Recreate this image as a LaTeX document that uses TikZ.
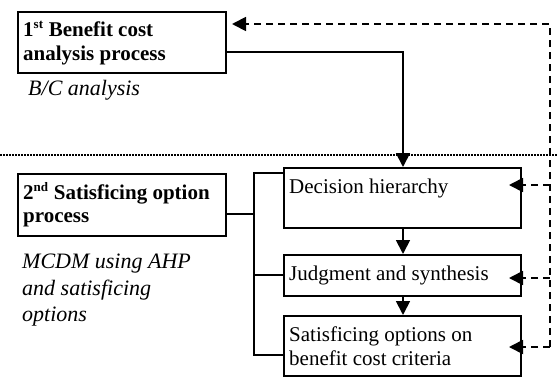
\documentclass[tikz,border=0pt]{standalone}
\usepackage{fontspec}
\setmainfont{Liberation Serif}[BoldFont={Liberation Serif Bold},ItalicFont={Liberation Serif Italic}]
\usetikzlibrary{arrows.meta}
\begin{document}
\begin{tikzpicture}[x=1pt,y=-1pt,
  box/.style={draw,line width=1.8pt,anchor=north west,inner sep=0pt},
  txt/.style={anchor=base west,inner sep=0pt,font=\fontsize{21}{24}\selectfont},
  btxt/.style={txt,font=\fontsize{21}{24}\selectfont\bfseries},
  itxt/.style={txt,font=\fontsize{22}{26}\selectfont\itshape},
  conn/.style={line width=1.8pt},
  arr/.style={conn,-{Triangle[length=14pt,width=14pt]}},
  dashline/.style={line width=1.8pt,dash pattern=on 7.5pt off 4.5pt},
  darr/.style={dashline,-{Triangle[length=14pt,width=14pt]}}]
\useasboundingbox (0,0) rectangle (557,389);
% boxes
\node[box,minimum width=208pt,minimum height=61pt] (b1) at (17,11) {};
\node[box,minimum width=208pt,minimum height=62pt] (b2) at (17,173) {};
\node[box,minimum width=237pt,minimum height=60pt] (dec) at (283,167) {};
\node[box,minimum width=237pt,minimum height=41pt] (jud) at (283,254) {};
\node[box,minimum width=237pt,minimum height=60pt] (sat) at (283,315) {};
% texts
\node[btxt] (t1a) at (23,36) {1\textsuperscript{\fontsize{13}{13}\selectfont st} Benefit cost};
\node[btxt] (t1b) at (23,60) {analysis process};
\node[itxt] (t1c) at (28,95) {B/C analysis};
\node[btxt] (t2a) at (23,199) {2\textsuperscript{\fontsize{13}{13}\selectfont nd} Satisficing option};
\node[btxt] (t2b) at (23,222) {process};
\node[itxt] (t2c) at (22,268) {MCDM using AHP};
\node[itxt] (t2d) at (22,295) {and satisficing};
\node[itxt] (t2e) at (22,321) {options};
\node[txt] (td) at (289,193) {Decision hierarchy};
\node[txt] (tj) at (289,280) {Judgment and synthesis};
\node[txt] (ts1) at (289,341) {Satisficing options on};
\node[txt] (ts2) at (289,365) {benefit cost criteria};
% dotted separator
\coordinate (dl) at (0,155);
\coordinate (dr) at (557,155);
\draw[line width=1.8pt,dash pattern=on 1.5pt off 1.5pt] (dl) -- (dr);
% solid connectors
\coordinate (k1) at (403,52);
\draw[arr] (b1.east |- k1) -- (k1) -- (k1 |- dec.north);
\draw[arr] (dec.south -| k1) -- (jud.north -| k1);
\draw[arr] (jud.south -| k1) -- (sat.north -| k1);
% bus
\coordinate (bus) at (254,214);
\coordinate (bt) at (254,173);
\coordinate (bm) at (254,275);
\coordinate (bb) at (254,355);
\draw[conn] (b2.east |- bus) -- (bus);
\draw[conn] (dec.west |- bt) -- (bt) -- (bb) -- (sat.west |- bb);
\draw[conn] (bm) -- (jud.west |- bm);
% dashed feedback
\coordinate (r0) at (550,24);
\coordinate (r1) at (550,185);
\coordinate (r2) at (550,278);
\coordinate (r3) at (550,347);
\coordinate (e0) at (232,24);
\coordinate (e1) at (509,185);
\coordinate (e2) at (509,278);
\coordinate (e3) at (509,347);
\draw[darr] (r3) -- (r0) -- (e0);
\draw[darr] (r1) -- (e1);
\draw[darr] (r2) -- (e2);
\draw[darr] (r3) -- (e3);
\end{tikzpicture}
\end{document}
